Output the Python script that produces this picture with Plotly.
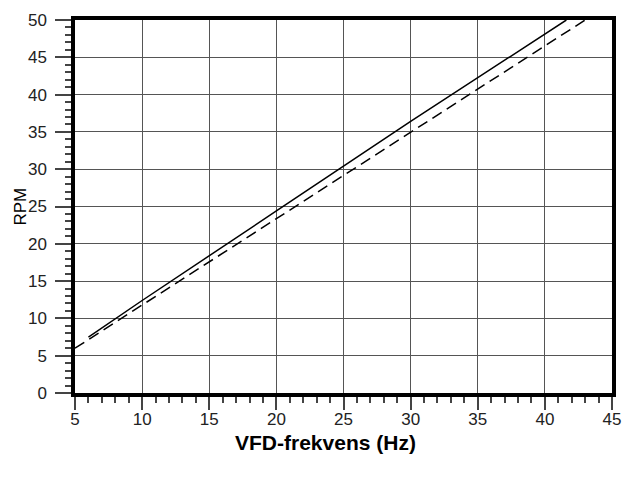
import plotly.graph_objects as go

# Data
freq_solid = [6, 10, 20, 30, 41.6]
rpm_solid = [7.5, 12.4, 24.4, 36.4, 50.0]
freq_dashed = [5, 10, 20, 30, 43.0]
rpm_dashed = [6.0, 11.8, 23.4, 35.0, 50.0]

x_ticks = [5, 10, 15, 20, 25, 30, 35, 40, 45]
y_ticks = [0, 5, 10, 15, 20, 25, 30, 35, 40, 45, 50]

x_title = "VFD-frekvens (Hz)"
y_title = "RPM"

FONT = "Liberation Sans, Arial, sans-serif"

fig = go.Figure()
fig.add_trace(go.Scatter(x=freq_solid, y=rpm_solid, mode="lines",
                         line=dict(color="black", width=1.5), showlegend=False))
fig.add_trace(go.Scatter(x=freq_dashed, y=rpm_dashed, mode="lines",
                         line=dict(color="black", width=1.5, dash="11px,6px"), showlegend=False))

axis_common = dict(
    showline=True, linecolor="black", linewidth=3.5, mirror=True,
    showgrid=True, gridcolor="#555555", gridwidth=1,
    zeroline=False, ticks="outside", tickwidth=1.5, tickcolor="#444444",
    tickfont=dict(family=FONT, size=17, color="#222222"),
    automargin=False,
)

fig.update_xaxes(range=[5, 45], tickvals=x_ticks, ticklen=13,
                 minor=dict(dtick=1, ticklen=6, tickwidth=1.5, tickcolor="#444444", ticks="outside", showgrid=False),
                 ticklabelstandoff=-5,
                 **axis_common)
fig.update_yaxes(range=[0, 50], tickvals=y_ticks, ticklen=16,
                 minor=dict(dtick=1, ticklen=6, tickwidth=1.5, tickcolor="#444444", ticks="outside", showgrid=False),
                 ticklabelstandoff=5,
                 **axis_common)

fig.add_annotation(text="<b>" + x_title + "</b>", xref="paper", yref="paper",
                   x=0.467, y=-0.134, xanchor="center", yanchor="middle", showarrow=False,
                   font=dict(family=FONT, size=21, color="black"))
fig.add_annotation(text=y_title, xref="paper", yref="paper", textangle=-90,
                   x=-0.1024, y=0.5, xanchor="center", yanchor="middle", showarrow=False,
                   font=dict(family=FONT, size=17, color="black"))

fig.update_layout(
    width=622, height=484,
    margin=dict(l=75, r=10, t=20, b=91),
    plot_bgcolor="white", paper_bgcolor="white",
)

fig.write_html("out.html", config={"displayModeBar": False},
               post_script="document.body.style.margin='0';")
